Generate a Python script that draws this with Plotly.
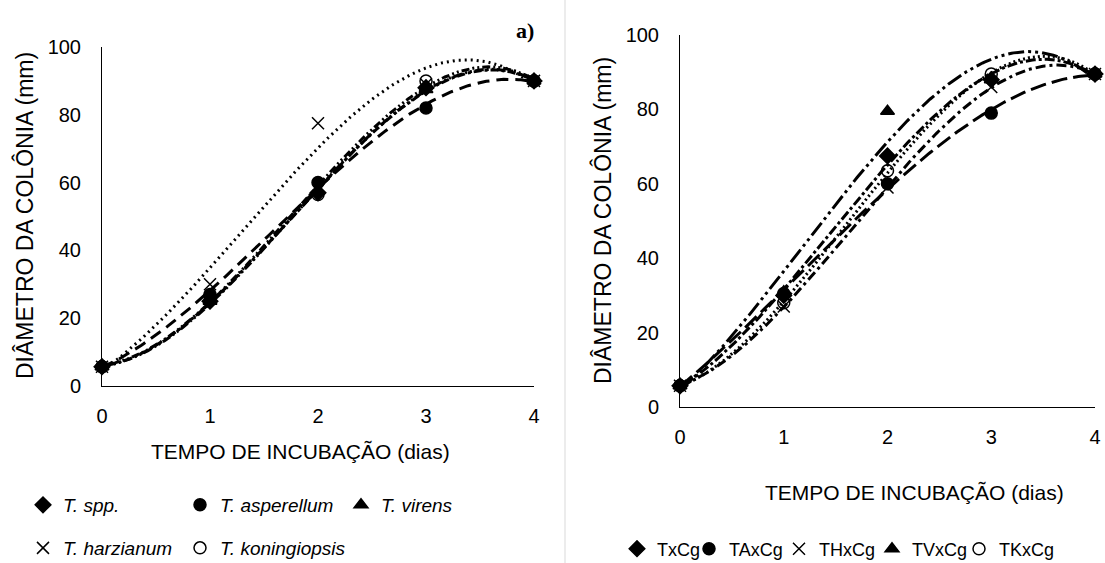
import numpy as np
import plotly.graph_objects as go

# dias de incubação
dias = [0, 1, 2, 3, 4]

# a) isolados de Trichoderma (diâmetro da colônia, mm)
t_spp = [5.7, 25.0, 57.0, 88.0, 90.0]
t_asperellum = [5.7, 27.0, 60.0, 82.0, 90.0]
t_virens = [5.7, 25.0, 57.5, 87.5, 90.0]
t_harzianum = [5.7, 30.0, 77.5, 89.0, 90.0]
t_koningiopsis = [5.7, 26.5, 56.5, 90.0, 90.0]

# b) confronto Trichoderma x C. gloeosporioides
txcg = [5.7, 30.0, 67.5, 88.0, 89.5]
taxcg = [5.7, 30.5, 60.0, 79.0, 89.5]
thxcg = [5.7, 27.0, 59.0, 86.0, 89.5]
tvxcg = [5.7, 31.0, 79.5, 88.0, 89.5]
tkxcg = [5.7, 28.0, 63.5, 89.5, 89.5]

FONT = "Arial, Liberation Sans, sans-serif"

# (nome, valores, símbolo, tracejado da linha de tendência)
left_series = [
    ("T. spp.", t_spp, "diamond", "9px,3px,2px,3px,2px,3px"),
    ("T. asperellum", t_asperellum, "circle", "12px,7px"),
    ("T. virens", t_virens, "triangle-up", "3px,3px,8px,3px"),
    ("T. harzianum", t_harzianum, "x-thin-open", "2px,4px"),
    ("T. koningiopsis", t_koningiopsis, "circle-open", "2px,3px,2px,3px,8px,3px"),
]
right_series = [
    ("TxCg", txcg, "diamond", "3px,3px,10px,3px"),
    ("TAxCg", taxcg, "circle", "16px,6px"),
    ("THxCg", thxcg, "x-thin-open", "10px,4px,3px,4px"),
    ("TVxCg", tvxcg, "triangle-up", "16px,4px,3px,4px,3px,4px"),
    ("TKxCg", tkxcg, "circle-open", "2px,3px"),
]

W, H = 1105, 563


def px(x):
    return x / W


def py(y):
    return 1 - y / H


# posição (px) do símbolo de cada item de legenda
left_legend_pos = [(42, 505), (199, 505), (360, 505), (42, 548), (199, 548)]
right_legend_pos = [(636, 549), (708, 549), (798, 549), (891, 549), (978, 549)]

fig = go.Figure()
xs = np.linspace(0, 4, 200)
legends = {}


def add_series(name, vals, symbol, dash, xa, ya, pos, italic):
    # linha de tendência polinomial (ordem 3), como no Excel
    coef = np.polyfit(dias, vals, 3)
    fig.add_trace(go.Scatter(
        x=xs, y=np.polyval(coef, xs), mode="lines", xaxis=xa, yaxis=ya,
        line=dict(color="black", width=3, dash=dash),
        showlegend=False, hoverinfo="skip", cliponaxis=False,
    ))
    key = "legend" if not legends else "legend%d" % (len(legends) + 1)
    legends[key] = dict(
        x=px(pos[0] - 19), y=py(pos[1]), xanchor="left", yanchor="middle",
        bgcolor="rgba(0,0,0,0)", orientation="h",
        font=dict(family=FONT, size=19 if italic else 18,
                  style="italic" if italic else "normal"),
    )
    fig.add_trace(go.Scatter(
        x=dias, y=vals, mode="markers", name=name, xaxis=xa, yaxis=ya,
        legend=key, cliponaxis=False,
        marker=dict(symbol=symbol, size=12, color="black",
                    line=dict(color="black", width=1.5)),
    ))


for (name, vals, sym, dash), pos in zip(left_series, left_legend_pos):
    add_series(name, vals, sym, dash, "x", "y", pos, True)
for (name, vals, sym, dash), pos in zip(right_series, right_legend_pos):
    add_series(name, vals, sym, dash, "x2", "y2", pos, False)

axis_common = dict(
    showline=True, linecolor="black", linewidth=1, showgrid=False,
    zeroline=False, ticks="", ticklabeloverflow="allow",
    tickfont=dict(family=FONT, size=20, color="black"),
)

fig.update_layout(
    width=W, height=H,
    margin=dict(l=0, r=0, t=0, b=0, autoexpand=False),
    plot_bgcolor="white", paper_bgcolor="white",
    font=dict(family=FONT, color="black"),
    xaxis=dict(domain=[px(102), px(534)], range=[0, 4], anchor="y",
               tickvals=dias, ticklabelstandoff=12, **axis_common),
    yaxis=dict(domain=[py(386), py(47)], range=[0, 100], anchor="x",
               dtick=20, ticklabelstandoff=16, **axis_common),
    xaxis2=dict(domain=[px(680), px(1095)], range=[0, 4], anchor="y2",
                tickvals=dias, ticklabelstandoff=12, **axis_common),
    yaxis2=dict(domain=[py(407), py(35)], range=[0, 100], anchor="x2",
                dtick=20, ticklabelstandoff=16, **axis_common),
    showlegend=True,
    **legends,
)

annotations = [
    dict(text="TEMPO DE INCUBAÇÃO (dias)", x=px(300), y=py(451), size=21),
    dict(text="TEMPO DE INCUBAÇÃO (dias)", x=px(915), y=py(492), size=21),
    dict(text="DIÂMETRO DA COLÔNIA (mm)", x=px(24), y=py(216), size=23, textangle=-90),
    dict(text="DIÂMETRO DA COLÔNIA (mm)", x=px(603), y=py(221), size=23, textangle=-90),
]
for a in annotations:
    size = a.pop("size")
    fig.add_annotation(xref="paper", yref="paper", showarrow=False,
                       xanchor="center", yanchor="middle",
                       font=dict(family=FONT, size=size, color="black"), **a)
fig.add_annotation(text="<b>a)</b>", xref="paper", yref="paper", x=px(525), y=py(30),
                   showarrow=False, xanchor="center", yanchor="middle",
                   font=dict(family="Times New Roman, Liberation Serif, serif", size=22, color="black"))

# linha cinza separando os dois painéis
fig.add_shape(type="line", xref="paper", yref="paper", x0=px(565), x1=px(565), y0=0, y1=1,
              line=dict(color="#d9d9d9", width=1))

# sem margem da página, para a figura ocupar a janela inteira
fig.write_html("out.html", config={"displayModeBar": False},
               post_script="document.body.style.margin='0';")
